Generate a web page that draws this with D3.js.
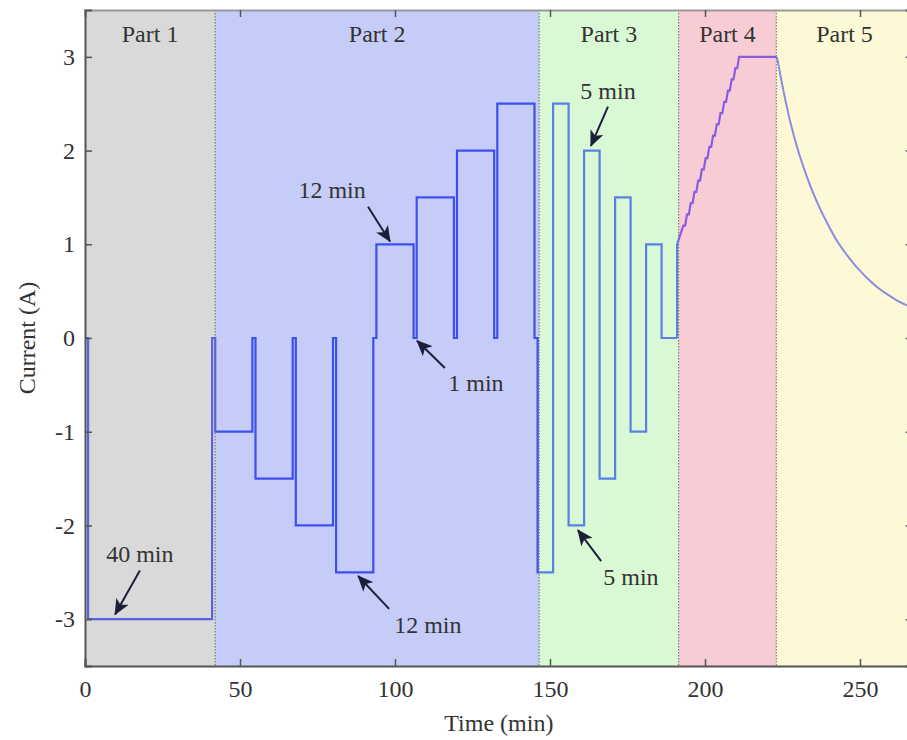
<!DOCTYPE html>
<html>
<head>
<meta charset="utf-8">
<script src="https://cdn.jsdelivr.net/npm/d3@7"></script>
<style>
  html, body { margin: 0; padding: 0; background: #ffffff; }
  svg { display: block; }
  text { font-family: "Liberation Serif", "DejaVu Serif", serif; fill: #333; }
</style>
</head>
<body>
<svg id="chart" width="907" height="740"></svg>
<script>
// ---- data ----
const xTicks = [0, 50, 100, 150, 200, 250];
const yTicks = [-3, -2, -1, 0, 1, 2, 3];

const partNames = ["Part 1", "Part 2", "Part 3", "Part 4", "Part 5"];
const partStarts = [0, 42, 146.5, 191.5, 223];
const partEnds = [42, 146.5, 191.5, 223, 267];
const partFills = ["#d9d9d9", "#c6ccf8", "#d9f8d4", "#f8ccd4", "#fdf9d7"];
const partLineColors = ["#5a62e2", "#3e4ff0", "#5b7fe8", "#8a5ce0", "#8b8be6"];

// step profile: current holds from each time to the next one
const stepTimes = [0, 1, 41, 42, 54, 55, 67, 68, 80, 81, 93, 94, 106, 107, 119, 120, 132, 133, 145, 146, 151, 156, 161, 166, 171, 176, 181, 186, 191];
const stepCurrents = [0, -3, 0, -1, 0, -1.5, 0, -2, 0, -2.5, 0, 1, 0, 1.5, 0, 2, 0, 2.5, 0, -2.5, 2.5, -2, 2, -1.5, 1.5, -1, 1, 0, 0];

// part 4 staircase ramp
const rampTimes = [191, 191, 193, 193.6, 194.2, 194.8, 195.4, 196.0, 196.6, 197.2, 197.8, 198.4, 199.0, 199.6, 200.2, 200.8, 201.4, 202.0, 202.6, 203.2, 203.8, 204.4, 205.0, 205.6, 206.2, 206.8, 207.4, 208.0, 208.6, 209.2, 209.8, 210.4, 211.0, 223.2];
const rampCurrents = [0, 1.0, 1.2, 1.2, 1.32, 1.32, 1.44, 1.44, 1.56, 1.56, 1.68, 1.68, 1.80, 1.80, 1.92, 1.92, 2.04, 2.04, 2.16, 2.16, 2.28, 2.28, 2.40, 2.40, 2.52, 2.52, 2.64, 2.64, 2.76, 2.76, 2.88, 2.88, 3.0, 3.0];

// part 5 decay
const decayTimes = [223.2, 225.3, 227.4, 229.5, 231.7, 234, 237.1, 240, 242.5, 245, 247.8, 250.5, 253.2, 256, 258.6, 262, 265, 267];
const decayCurrents = [3.0, 2.64, 2.32, 2.06, 1.83, 1.62, 1.38, 1.19, 1.04, 0.92, 0.80, 0.70, 0.61, 0.53, 0.47, 0.40, 0.35, 0.32];

// annotations (in data units)
const annLabels = ["40 min", "12 min", "1 min", "12 min", "5 min", "5 min"];
const annTextT = [17.7, 79.7, 126.1, 110.6, 168.7, 176.1];
const annTextI = [-2.39, 1.49, -0.57, -3.15, 2.55, -2.64];
const annTailT = [17.7, 91.3, 116.1, 98.1, 168.7, 166.5];
const annTailI = [-2.48, 1.40, -0.32, -2.89, 2.47, -2.38];
const annTipT = [9.7, 98.4, 107.1, 88.1, 163.2, 159.0];
const annTipI = [-2.95, 1.03, -0.03, -2.54, 2.05, -2.05];

// ---- layout ----
const svg = d3.select("#chart");
const W = 907, H = 740;
const x = d3.scaleLinear().domain([0, 267]).range([85, 912.7]);
const y = d3.scaleLinear().domain([-3.5, 3.5]).range([666, 10]);

svg.append("rect").attr("width", W).attr("height", H).attr("fill", "#fff");

// backgrounds
svg.append("g").selectAll("rect").data(partNames).join("rect")
  .attr("x", (d, i) => x(partStarts[i]))
  .attr("y", y(3.5))
  .attr("width", (d, i) => x(partEnds[i]) - x(partStarts[i]))
  .attr("height", y(-3.5) - y(3.5))
  .attr("fill", (d, i) => partFills[i]);

// clip paths per part
const defs = svg.append("defs");
partNames.forEach((d, i) => {
  defs.append("clipPath").attr("id", "clip" + i)
    .append("rect")
    .attr("x", x(partStarts[i]) - (i === 0 ? 5 : 0))
    .attr("y", 0)
    .attr("width", x(partEnds[i]) - x(partStarts[i]) + (i === 0 ? 5 : 0))
    .attr("height", H);
});

// arrow marker
defs.append("marker").attr("id", "arrow")
  .attr("viewBox", "0 0 16 14").attr("refX", 15).attr("refY", 7)
  .attr("markerWidth", 16).attr("markerHeight", 14)
  .attr("markerUnits", "userSpaceOnUse").attr("orient", "auto")
  .append("path").attr("d", "M0,0 L16,7 L0,14 L4,7 Z").attr("fill", "#1c1f3a");

// build line data
const stepPts = [];
for (let i = 0; i < stepTimes.length - 1; i++) {
  stepPts.push([stepTimes[i], stepCurrents[i]]);
  stepPts.push([stepTimes[i + 1], stepCurrents[i]]);
}
const rampPts = rampTimes.map((t, i) => [t, rampCurrents[i]]);
const decayPts = decayTimes.map((t, i) => [t, decayCurrents[i]]);

const lineLin = d3.line().x(d => x(d[0])).y(d => y(d[1]));
const lineSmooth = d3.line().x(d => x(d[0])).y(d => y(d[1])).curve(d3.curveMonotoneX);

partNames.forEach((d, i) => {
  const g = svg.append("g").attr("clip-path", `url(#clip${i})`);
  [stepPts, rampPts].forEach(pts => {
    g.append("path").datum(pts).attr("d", lineLin)
      .attr("fill", "none").attr("stroke", partLineColors[i])
      .attr("stroke-width", 2.2).attr("stroke-linejoin", "miter");
  });
  g.append("path").datum(decayPts).attr("d", lineSmooth)
    .attr("fill", "none").attr("stroke", partLineColors[i]).attr("stroke-width", 2);
});

// part boundaries
svg.append("g").selectAll("line").data(partStarts.slice(1)).join("line")
  .attr("x1", d => x(d)).attr("x2", d => x(d))
  .attr("y1", y(3.5)).attr("y2", y(-3.5))
  .attr("stroke", "#666").attr("stroke-width", 1).attr("stroke-dasharray", "1.5,1.5");

// part labels
svg.append("g").selectAll("text").data(partNames).join("text")
  .attr("x", (d, i) => x((partStarts[i] + partEnds[i]) / 2))
  .attr("y", 42)
  .attr("text-anchor", "middle")
  .attr("font-size", 24)
  .text(d => d);

// axes
const fmt = d => String(d);
const axB = d3.axisBottom(x).tickValues(xTicks).tickSize(-7).tickPadding(14).tickFormat(fmt);
const axT = d3.axisTop(x).tickValues(xTicks).tickSize(-7).tickFormat("");
const axL = d3.axisLeft(y).tickValues(yTicks).tickSize(-7).tickPadding(10).tickFormat(fmt);
const axR = d3.axisRight(y).tickValues(yTicks).tickSize(-7).tickFormat("");

function styleAxis(g) {
  g.select(".domain").attr("stroke", "#555").attr("stroke-width", 2);
  g.selectAll(".tick line").attr("stroke", "#555").attr("stroke-width", 1.5);
  g.selectAll(".tick text").attr("font-size", 24).attr("fill", "#333")
    .attr("font-family", '"Liberation Serif", serif');
}
svg.append("g").attr("transform", `translate(0,${y(-3.5)})`).call(axB).call(styleAxis);
svg.append("g").attr("transform", `translate(0,${y(3.5)})`).call(axT).call(styleAxis)
  .select(".domain").attr("stroke", "#999");
svg.append("g").attr("transform", `translate(${x(0)},0)`).call(axL).call(styleAxis);
svg.append("g").attr("transform", `translate(${x(267)},0)`).call(axR).call(styleAxis);

// axis titles
svg.append("text").attr("x", (x(0) + x(267)) / 2).attr("y", 731)
  .attr("text-anchor", "middle").attr("font-size", 24).text("Time (min)");
svg.append("text")
  .attr("transform", `translate(35,${(y(3.5) + y(-3.5)) / 2}) rotate(-90)`)
  .attr("text-anchor", "middle").attr("font-size", 24).text("Current (A)");

// annotations
const ann = svg.append("g");
annLabels.forEach((lab, i) => {
  ann.append("line")
    .attr("x1", x(annTailT[i])).attr("y1", y(annTailI[i]))
    .attr("x2", x(annTipT[i])).attr("y2", y(annTipI[i]))
    .attr("stroke", "#1c1f3a").attr("stroke-width", 2)
    .attr("marker-end", "url(#arrow)");
  ann.append("text").attr("x", x(annTextT[i])).attr("y", y(annTextI[i]))
    .attr("text-anchor", "middle").attr("font-size", 24).text(lab);
});
</script>
</body>
</html>
